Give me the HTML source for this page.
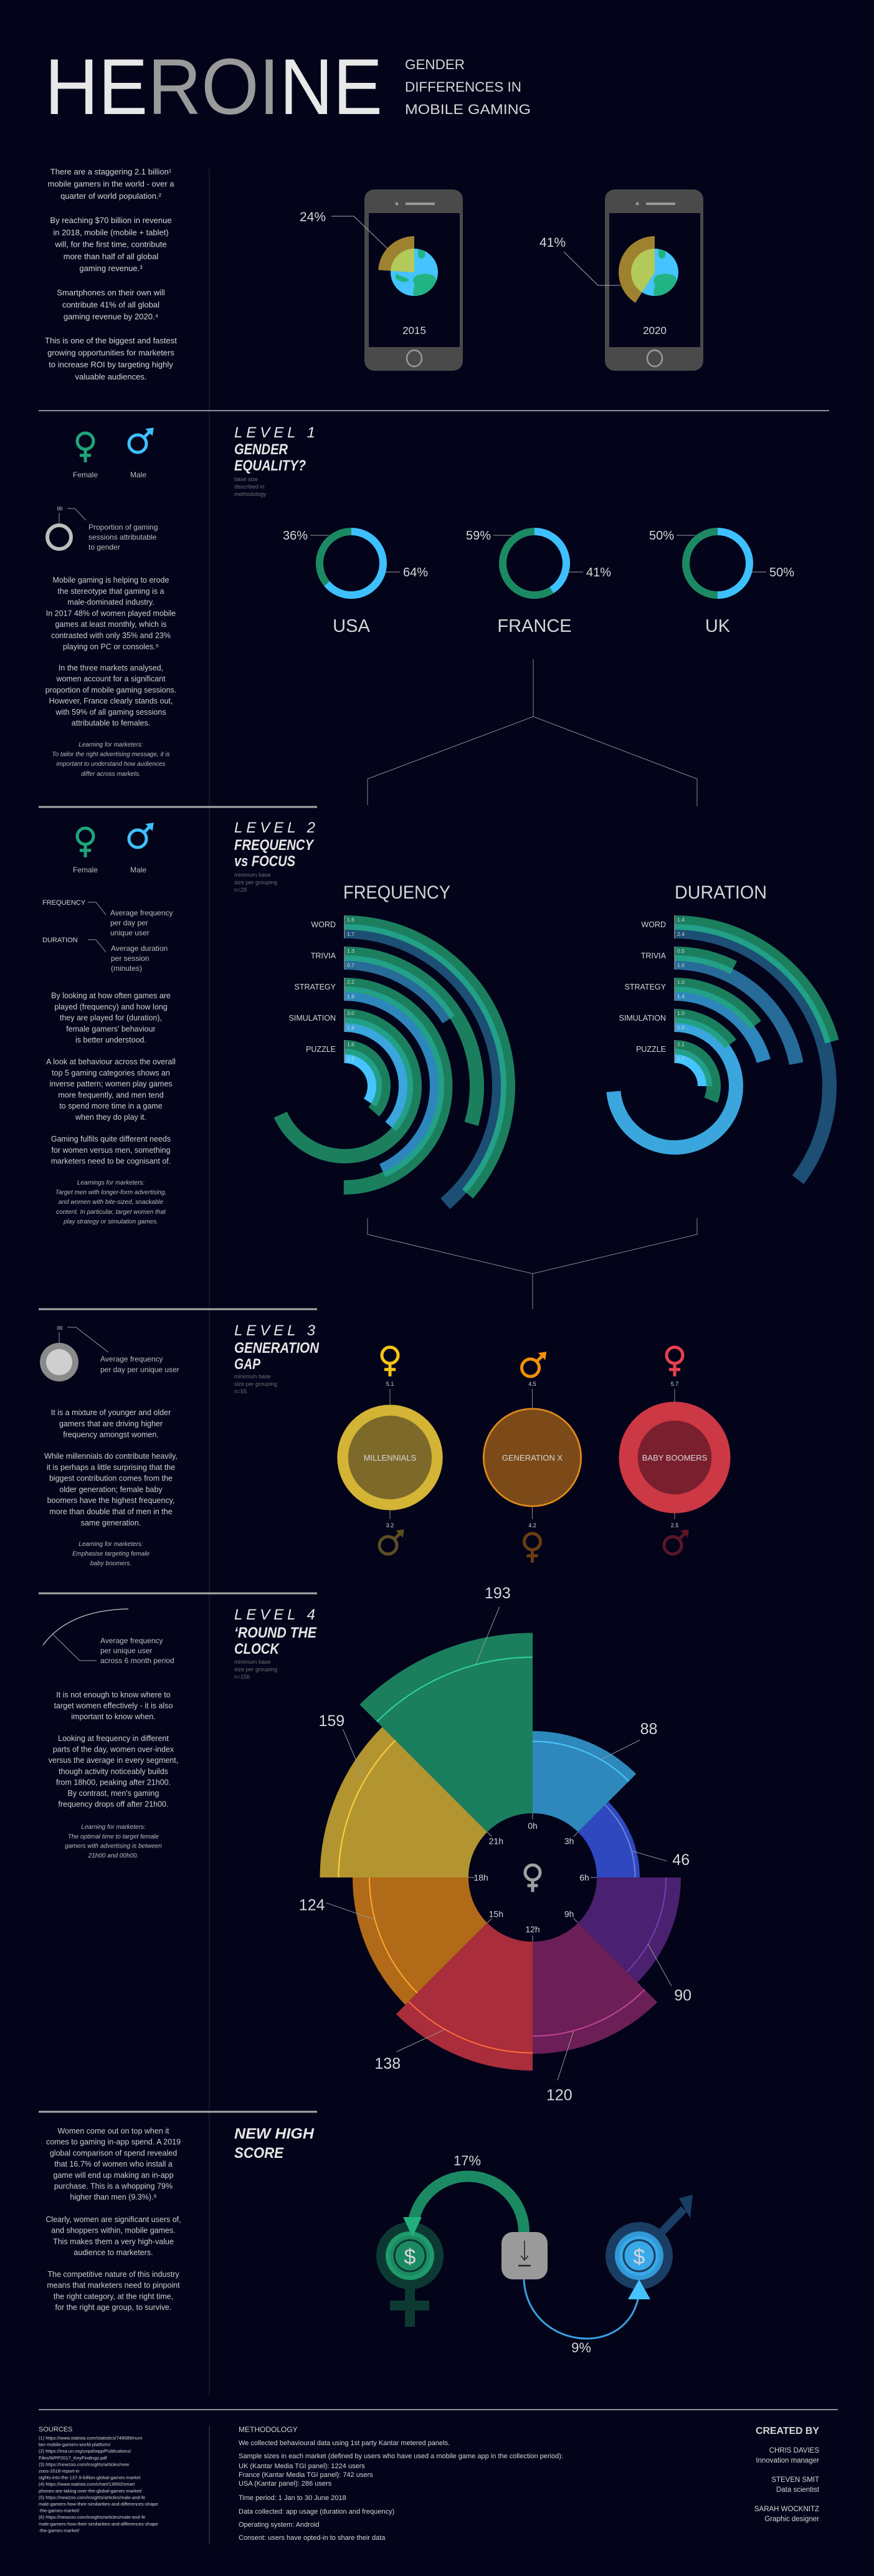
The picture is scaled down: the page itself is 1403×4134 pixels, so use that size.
<!DOCTYPE html>
<html><head><meta charset="utf-8"><title>Heroine - Gender differences in mobile gaming</title>
<style>
html,body{margin:0;padding:0;background:#03031a;}
svg{display:block;}
.t{font-family:"Liberation Sans",sans-serif;fill:#d6d6d6;}
.body{font-size:12.5px;fill:#cfcfcf;}
.intro{font-size:13px;fill:#d6d6d6;}
.learn{font-size:10px;font-style:italic;fill:#bdbdbd;}
.lvl{font-size:24px;font-style:italic;fill:#e6e6e6;}
.hd{font-size:24px;font-style:italic;font-weight:bold;fill:#e6e6e6;}
.note{font-size:9px;fill:#6f6f6f;}
.lab{font-size:12px;fill:#bdbdbd;}
.pct{font-size:20px;fill:#c8c8c8;}
</style></head>
<body>
<svg id="page" xmlns="http://www.w3.org/2000/svg" width="1403" height="4134" viewBox="0 0 1403 4134">
<rect x="0" y="0" width="1403" height="4134" fill="#03031a"/>

<!-- HEADER -->
<g>
<text class="t" x="72" y="183" font-size="127" textLength="542" lengthAdjust="spacingAndGlyphs"><tspan fill="#e8e8e8">HE</tspan><tspan fill="#9a9a9a">ROI</tspan><tspan fill="#e8e8e8">NE</tspan></text>
<text class="t" font-size="22" fill="#dcdcdc">
<tspan x="650" y="111" textLength="96" lengthAdjust="spacingAndGlyphs">GENDER</tspan>
<tspan x="650" y="147" textLength="187" lengthAdjust="spacingAndGlyphs">DIFFERENCES IN</tspan>
<tspan x="650" y="183" textLength="202" lengthAdjust="spacingAndGlyphs">MOBILE GAMING</tspan></text>
</g>

<line x1="336" y1="270" x2="336" y2="3843" stroke="#2a2a3a" stroke-width="1"/>

<text class="t intro" text-anchor="middle"><tspan x="178" y="280">There are a staggering 2.1 billion¹</tspan><tspan x="178" dy="19.5">mobile gamers in the world - over a</tspan><tspan x="178" dy="19.5">quarter of world population.²</tspan></text>
<text class="t intro" text-anchor="middle"><tspan x="178" y="358">By reaching $70 billion in revenue</tspan><tspan x="178" dy="19.3">in 2018, mobile (mobile + tablet)</tspan><tspan x="178" dy="19.3">will, for the first time, contribute</tspan><tspan x="178" dy="19.3">more than half of all global</tspan><tspan x="178" dy="19.3">gaming revenue.³</tspan></text>
<text class="t intro" text-anchor="middle"><tspan x="178" y="474">Smartphones on their own will</tspan><tspan x="178" dy="19.3">contribute 41% of all global</tspan><tspan x="178" dy="19.3">gaming revenue by 2020.⁴</tspan></text>
<text class="t intro" text-anchor="middle"><tspan x="178" y="551">This is one of the biggest and fastest</tspan><tspan x="178" dy="19.3">growing opportunities for marketers</tspan><tspan x="178" dy="19.3">to increase ROI by targeting highly</tspan><tspan x="178" dy="19.3">valuable audiences.</tspan></text>

<g id="phones"></g>
<g stroke="#aaa" stroke-width="1" fill="none">
<polyline points="532,347 568,347 622,399"/>
<polyline points="905,404 960,458 996,458"/>
</g>
<text class="t" x="481" y="355" font-size="21" fill="#ddd">24%</text>
<text class="t" x="866" y="396" font-size="21" fill="#ddd">41%</text>

<line x1="62" y1="659" x2="1331" y2="659" stroke="#bfbfbf" stroke-width="1.5"/>

<!-- LEVEL 1 -->
<g id="sym1"></g>
<text class="t lab" x="137" y="766" text-anchor="middle">Female</text>
<text class="t lab" x="222" y="766" text-anchor="middle">Male</text>
<text class="t lvl" x="376" y="702" textLength="130" lengthAdjust="spacing">LEVEL 1</text>
<text class="t hd"><tspan x="376" y="729" textLength="86" lengthAdjust="spacingAndGlyphs">GENDER</tspan><tspan x="376" y="755" textLength="115" lengthAdjust="spacingAndGlyphs">EQUALITY?</tspan></text>
<text class="t note"><tspan x="376" y="772">base size</tspan><tspan x="376" y="784">described in</tspan><tspan x="376" y="796">methodology</tspan></text>

<g>
<circle cx="95" cy="862" r="19" fill="none" stroke="#bdbdbd" stroke-width="6"/>
<text class="t" x="96" y="819" font-size="8" fill="#999" text-anchor="middle">00</text>
<polyline points="95,823 95,840" stroke="#999" fill="none"/>
<polyline points="108,816 120,816 138,835" stroke="#999" fill="none"/>
<text class="t lab"><tspan x="142" y="850">Proportion of gaming</tspan><tspan x="142" y="866">sessions attributable</tspan><tspan x="142" y="882">to gender</tspan></text>
</g>

<text class="t body" text-anchor="middle"><tspan x="178" y="935">Mobile gaming is helping to erode</tspan><tspan x="178" dy="17.8">the stereotype that gaming is a</tspan><tspan x="178" dy="17.8">male-dominated industry.</tspan><tspan x="178" dy="17.8">In 2017 48% of women played mobile</tspan><tspan x="178" dy="17.8">games at least monthly, which is</tspan><tspan x="178" dy="17.8">contrasted with only 35% and 23%</tspan><tspan x="178" dy="17.8">playing on PC or consoles.⁵</tspan></text>
<text class="t body" text-anchor="middle"><tspan x="178" y="1076">In the three markets analysed,</tspan><tspan x="178" dy="17.7">women account for a significant</tspan><tspan x="178" dy="17.7">proportion of mobile gaming sessions.</tspan><tspan x="178" dy="17.7">However, France clearly stands out,</tspan><tspan x="178" dy="17.7">with 59% of all gaming sessions</tspan><tspan x="178" dy="17.7">attributable to females.</tspan></text>
<text class="t learn" text-anchor="middle"><tspan x="178" y="1198">Learning for marketers:</tspan><tspan x="178" dy="15.6">To tailor the right advertising message, it is</tspan><tspan x="178" dy="15.6">important to understand how audiences</tspan><tspan x="178" dy="15.6">differ across markets.</tspan></text>

<g id="donuts"></g>

<g stroke="#8a8a8a" stroke-width="1" fill="none">
<polyline points="590,1292 590,1250 856,1150 1119,1250 1119,1294"/>
<line x1="856" y1="1058" x2="856" y2="1150"/>
</g>
<line x1="62" y1="1295" x2="509" y2="1295" stroke="#a8a8a8" stroke-width="3"/>

<!-- LEVEL 2 -->
<g id="sym2"></g>
<text class="t lab" x="137" y="1400" text-anchor="middle">Female</text>
<text class="t lab" x="222" y="1400" text-anchor="middle">Male</text>
<text class="t lvl" x="376" y="1336" textLength="130" lengthAdjust="spacing">LEVEL 2</text>
<text class="t hd"><tspan x="376" y="1364" textLength="127" lengthAdjust="spacingAndGlyphs">FREQUENCY</tspan><tspan x="376" y="1390" textLength="98" lengthAdjust="spacingAndGlyphs">vs FOCUS</tspan></text>
<text class="t note"><tspan x="376" y="1407">minimum base</tspan><tspan x="376" y="1419">size per grouping</tspan><tspan x="376" y="1431">n=28</tspan></text>

<g>
<text class="t" x="68" y="1452" font-size="11" fill="#ddd">FREQUENCY</text>
<polyline points="141,1448 154,1448 170,1468" stroke="#999" fill="none"/>
<text class="t lab"><tspan x="177" y="1469">Average frequency</tspan><tspan x="177" y="1485">per day per</tspan><tspan x="177" y="1501">unique user</tspan></text>
<text class="t" x="68" y="1512" font-size="11" fill="#ddd">DURATION</text>
<polyline points="141,1508 154,1508 170,1528" stroke="#999" fill="none"/>
<text class="t lab"><tspan x="178" y="1526">Average duration</tspan><tspan x="178" y="1542">per session</tspan><tspan x="178" y="1558">(minutes)</tspan></text>
</g>

<text class="t body" text-anchor="middle"><tspan x="178" y="1602">By looking at how often games are</tspan><tspan x="178" dy="17.8">played (frequency) and how long</tspan><tspan x="178" dy="17.8">they are played for (duration),</tspan><tspan x="178" dy="17.8">female gamers' behaviour</tspan><tspan x="178" dy="17.8">is better understood.</tspan></text>
<text class="t body" text-anchor="middle"><tspan x="178" y="1708">A look at behaviour across the overall</tspan><tspan x="178" dy="17.8">top 5 gaming categories shows an</tspan><tspan x="178" dy="17.8">inverse pattern; women play games</tspan><tspan x="178" dy="17.8">more frequently, and men tend</tspan><tspan x="178" dy="17.8">to spend more time in a game</tspan><tspan x="178" dy="17.8">when they do play it.</tspan></text>
<text class="t body" text-anchor="middle"><tspan x="178" y="1832">Gaming fulfils quite different needs</tspan><tspan x="178" dy="17.8">for women versus men, something</tspan><tspan x="178" dy="17.8">marketers need to be cognisant of.</tspan></text>
<text class="t learn" text-anchor="middle"><tspan x="178" y="1901">Learnings for marketers:</tspan><tspan x="178" dy="15.6">Target men with longer-form advertising,</tspan><tspan x="178" dy="15.6">and women with bite-sized, snackable</tspan><tspan x="178" dy="15.6">content. In particular, target women that</tspan><tspan x="178" dy="15.6">play strategy or simulation games.</tspan></text>

<text class="t" x="551" y="1442" font-size="30" fill="#e2e2e2" textLength="172" lengthAdjust="spacingAndGlyphs">FREQUENCY</text>
<text class="t" x="1083" y="1442" font-size="30" fill="#e2e2e2" textLength="148" lengthAdjust="spacingAndGlyphs">DURATION</text>
<g id="freqChart"></g>
<g id="durChart"></g>

<g stroke="#8a8a8a" stroke-width="1" fill="none">
<polyline points="590,1955 590,1981 855,2044 1119,1981 1119,1955"/>
<line x1="855" y1="2044" x2="855" y2="2101"/>
</g>
<line x1="62" y1="2101" x2="509" y2="2101" stroke="#a8a8a8" stroke-width="3"/>

<!-- LEVEL 3 -->
<text class="t lvl" x="376" y="2143" textLength="130" lengthAdjust="spacing">LEVEL 3</text>
<text class="t hd"><tspan x="376" y="2171" textLength="136" lengthAdjust="spacingAndGlyphs">GENERATION</tspan><tspan x="376" y="2197" textLength="42" lengthAdjust="spacingAndGlyphs">GAP</tspan></text>
<text class="t note"><tspan x="376" y="2212">minimum base</tspan><tspan x="376" y="2224">size per grouping</tspan><tspan x="376" y="2236">n=55</tspan></text>
<g>
<circle cx="95" cy="2186" r="31" fill="#8a8a8a"/>
<circle cx="95" cy="2186" r="21" fill="#cfcfcf"/>
<text class="t" x="96" y="2134" font-size="8" fill="#999" text-anchor="middle">00</text>
<line x1="95" y1="2138" x2="95" y2="2155" stroke="#999"/>
<polyline points="108,2130 122,2130 174,2170" stroke="#999" fill="none"/>
<text class="t lab"><tspan x="161" y="2185">Average frequency</tspan><tspan x="161" y="2202">per day per unique user</tspan></text>
</g>
<text class="t body" text-anchor="middle"><tspan x="178" y="2271">It is a mixture of younger and older</tspan><tspan x="178" dy="17.8">gamers that are driving higher</tspan><tspan x="178" dy="17.8">frequency amongst women.</tspan></text>
<text class="t body" text-anchor="middle"><tspan x="178" y="2341">While millennials do contribute heavily,</tspan><tspan x="178" dy="17.8">it is perhaps a little surprising that the</tspan><tspan x="178" dy="17.8">biggest contribution comes from the</tspan><tspan x="178" dy="17.8">older generation; female baby</tspan><tspan x="178" dy="17.8">boomers have the highest frequency,</tspan><tspan x="178" dy="17.8">more than double that of men in the</tspan><tspan x="178" dy="17.8">same generation.</tspan></text>
<text class="t learn" text-anchor="middle"><tspan x="178" y="2481">Learning for marketers:</tspan><tspan x="178" dy="15.6">Emphasise targeting female</tspan><tspan x="178" dy="15.6">baby boomers.</tspan></text>
<g id="genChart"></g>

<line x1="62" y1="2557" x2="509" y2="2557" stroke="#a8a8a8" stroke-width="3"/>

<!-- LEVEL 4 -->
<text class="t lvl" x="376" y="2599" textLength="130" lengthAdjust="spacing">LEVEL 4</text>
<text class="t hd"><tspan x="376" y="2628" textLength="132" lengthAdjust="spacingAndGlyphs">‘ROUND THE</tspan><tspan x="376" y="2654" textLength="72" lengthAdjust="spacingAndGlyphs">CLOCK</tspan></text>
<text class="t note"><tspan x="376" y="2670">minimum base</tspan><tspan x="376" y="2682">size per grouping</tspan><tspan x="376" y="2694">n=156</tspan></text>
<g>
<path d="M69,2640 Q110,2584 206,2582" stroke="#aaa" stroke-width="1.5" fill="none"/>
<polyline points="84,2622 128,2665 155,2665" stroke="#999" fill="none"/>
<text class="t lab"><tspan x="161" y="2637">Average frequency</tspan><tspan x="161" y="2653">per unique user</tspan><tspan x="161" y="2669">across 6 month period</tspan></text>
</g>
<text class="t body" text-anchor="middle"><tspan x="182" y="2724">It is not enough to know where to</tspan><tspan x="182" dy="17.6">target women effectively - it is also</tspan><tspan x="182" dy="17.6">important to know when.</tspan></text>
<text class="t body" text-anchor="middle"><tspan x="182" y="2794">Looking at frequency in different</tspan><tspan x="182" dy="17.6">parts of the day, women over-index</tspan><tspan x="182" dy="17.6">versus the average in every segment,</tspan><tspan x="182" dy="17.6">though activity noticeably builds</tspan><tspan x="182" dy="17.6">from 18h00, peaking after 21h00.</tspan><tspan x="182" dy="17.6">By contrast, men's gaming</tspan><tspan x="182" dy="17.6">frequency drops off after 21h00.</tspan></text>
<text class="t learn" text-anchor="middle"><tspan x="182" y="2935">Learning for marketers:</tspan><tspan x="182" dy="15.3">The optimal time to target female</tspan><tspan x="182" dy="15.3">gamers with advertising is between</tspan><tspan x="182" dy="15.3">21h00 and 00h00.</tspan></text>
<g id="roseChart"></g>

<line x1="62" y1="3389" x2="509" y2="3389" stroke="#a8a8a8" stroke-width="3"/>

<!-- LEVEL 5 -->
<text class="t hd"><tspan x="376" y="3432" textLength="128" lengthAdjust="spacingAndGlyphs">NEW HIGH</tspan><tspan x="376" y="3463" textLength="79" lengthAdjust="spacingAndGlyphs">SCORE</tspan></text>
<text class="t body" text-anchor="middle"><tspan x="182" y="3424">Women come out on top when it</tspan><tspan x="182" dy="17.7">comes to gaming in-app spend. A 2019</tspan><tspan x="182" dy="17.7">global comparison of spend revealed</tspan><tspan x="182" dy="17.7">that 16.7% of women who install a</tspan><tspan x="182" dy="17.7">game will end up making an in-app</tspan><tspan x="182" dy="17.7">purchase. This is a whopping 79%</tspan><tspan x="182" dy="17.7">higher than men (9.3%).⁶</tspan></text>
<text class="t body" text-anchor="middle"><tspan x="182" y="3566">Clearly, women are significant users of,</tspan><tspan x="182" dy="17.7">and shoppers within, mobile games.</tspan><tspan x="182" dy="17.7">This makes them a very high-value</tspan><tspan x="182" dy="17.7">audience to marketers.</tspan></text>
<text class="t body" text-anchor="middle"><tspan x="182" y="3654">The competitive nature of this industry</tspan><tspan x="182" dy="17.7">means that marketers need to pinpoint</tspan><tspan x="182" dy="17.7">the right category, at the right time,</tspan><tspan x="182" dy="17.7">for the right age group, to survive.</tspan></text>

<g>
<path d="M841,3582 A89.5,89.5 0 0 0 662,3582" stroke="#1b8a62" stroke-width="18" fill="none"/>
<rect x="650" y="3668" width="16" height="66" fill="#0c3a32"/>
<rect x="626" y="3692" width="63" height="16" fill="#0c3a32"/>
<circle cx="658" cy="3620" r="54" fill="#0c3a32"/>
<circle cx="658" cy="3620" r="39" fill="#1e9a6c"/>
<circle cx="658" cy="3620" r="32" fill="#1b8a62"/>
<circle cx="658" cy="3620" r="25" fill="none" stroke="#0c3a32" stroke-width="3"/>
<text class="t" x="658" y="3633" font-size="34" fill="#0c3a32" text-anchor="middle">$</text>
<polygon points="647,3558 677,3558 662,3590" fill="#23b07e"/>
<text class="t" x="750" y="3475" font-size="22" fill="#bbb" text-anchor="middle">17%</text>
<rect x="805" y="3582" width="74" height="76" rx="18" fill="#9a9a9a"/>
<line x1="842" y1="3596" x2="842" y2="3626" stroke="#222" stroke-width="1.5"/>
<polyline points="836,3620 842,3627 848,3620" stroke="#222" stroke-width="1.5" fill="none"/>
<line x1="832" y1="3636" x2="852" y2="3636" stroke="#222" stroke-width="2.5"/>
<path d="M841,3658 C846,3770 1010,3790 1026,3680" stroke="#3aa0e0" stroke-width="3" fill="none"/>
<line x1="1050" y1="3595" x2="1098" y2="3545" stroke="#1a3d63" stroke-width="13"/>
<polygon points="1090,3528 1112,3522 1108,3560" fill="#1a3d63"/>
<circle cx="1026" cy="3620" r="54" fill="#1a3d63"/>
<circle cx="1026" cy="3620" r="39" fill="#3298d6"/>
<circle cx="1026" cy="3620" r="32" fill="#3aa8e8"/>
<circle cx="1026" cy="3620" r="25" fill="none" stroke="#1a3d63" stroke-width="3"/>
<text class="t" x="1026" y="3633" font-size="34" fill="#1a3d63" text-anchor="middle">$</text>
<polygon points="1008,3690 1044,3690 1026,3658" fill="#45c3ff"/>
<text class="t" x="933" y="3775" font-size="22" fill="#bbb" text-anchor="middle">9%</text>
</g>

<!-- FOOTER -->
<line x1="62" y1="3867" x2="1345" y2="3867" stroke="#bfbfbf" stroke-width="1.5"/>
<line x1="336" y1="3893" x2="336" y2="4083" stroke="#444" stroke-width="1"/>
<text class="t" x="62" y="3902" font-size="11" fill="#ccc">SOURCES</text>
<text class="t" font-size="7.5" fill="#9a9a9a"><tspan x="62" y="3915">(1) https://www.statista.com/statistics/748089/num</tspan><tspan x="62" dy="10.6">ber-mobile-gamers-world-platform/</tspan><tspan x="62" dy="10.6">(2) https://esa.un.org/unpd/wpp/Publications/</tspan><tspan x="62" dy="10.6">Files/WPP2017_KeyFindings.pdf</tspan><tspan x="62" dy="10.6">(3) https://newzoo.com/insights/articles/new</tspan><tspan x="62" dy="10.6">zoos-2018-report-in</tspan><tspan x="62" dy="10.6">sights-into-the-137-9-billion-global-games-market</tspan><tspan x="62" dy="10.6">(4) https://www.statista.com/chart/13650/smart</tspan><tspan x="62" dy="10.6">phones-are-taking-over-the-global-games-market/</tspan><tspan x="62" dy="10.6">(5) https://newzoo.com/insights/articles/male-and-fe</tspan><tspan x="62" dy="10.6">male-gamers-how-their-similarities-and-differences-shape</tspan><tspan x="62" dy="10.6">-the-games-market/</tspan><tspan x="62" dy="10.6">(6) https://newzoo.com/insights/articles/male-and-fe</tspan><tspan x="62" dy="10.6">male-gamers-how-their-similarities-and-differences-shape</tspan><tspan x="62" dy="10.6">-the-games-market/</tspan></text>
<text class="t" x="383" y="3903" font-size="12" fill="#ccc">METHODOLOGY</text>
<text class="t" font-size="11" fill="#bdbdbd"><tspan x="383" y="3924">We collected behavioural data using 1st party Kantar metered panels.</tspan><tspan x="383" y="3945">Sample sizes in each market (defined by users who have used a mobile game app in the collection period):</tspan><tspan x="383" y="3961">UK (Kantar Media TGI panel): 1224 users</tspan><tspan x="383" y="3975">France (Kantar Media TGI panel): 742 users</tspan><tspan x="383" y="3989">USA (Kantar panel): 286 users</tspan><tspan x="383" y="4012">Time period: 1 Jan to 30 June 2018</tspan><tspan x="383" y="4034">Data collected: app usage (duration and frequency)</tspan><tspan x="383" y="4055">Operating system: Android</tspan><tspan x="383" y="4076">Consent: users have opted-in to share their data</tspan></text>
<text class="t" x="1315" y="3906" font-size="16" font-weight="bold" fill="#e6e6e6" text-anchor="end" textLength="102" lengthAdjust="spacing">CREATED BY</text>
<text class="t" font-size="11.5" fill="#c8c8c8" text-anchor="end"><tspan x="1315" y="3936">CHRIS DAVIES</tspan><tspan x="1315" y="3952">Innovation manager</tspan><tspan x="1315" y="3983">STEVEN SMIT</tspan><tspan x="1315" y="3999">Data scientist</tspan><tspan x="1315" y="4030">SARAH WOCKNITZ</tspan><tspan x="1315" y="4046">Graphic designer</tspan></text>
<defs id="defs"></defs>
</svg>

<script>
// ---------- DATA ----------
const mobileYears = ['2015', '2020'];
const mobileShare = [24, 41];

const countries = ['USA', 'FRANCE', 'UK'];
const femaleShare = [36, 59, 50];
const maleShare = [64, 41, 50];

const categories = ['WORD', 'TRIVIA', 'STRATEGY', 'SIMULATION', 'PUZZLE'];
const freqFemale = [1.6, 1.3, 2.2, 3.0, 1.6];
const freqMale = [1.7, 0.7, 1.9, 1.6, 1.5];
const durFemale = [1.4, 0.5, 1.0, 1.0, 2.1];
const durMale = [2.4, 1.5, 1.4, 5.0, 1.7];

const generations = ['MILLENNIALS', 'GENERATION X', 'BABY BOOMERS'];
const genTopValue = [5.1, 4.5, 5.7];
const genBottomValue = [3.2, 4.2, 2.5];
const genTopGender = ['female', 'male', 'female'];
const genBottomGender = ['male', 'female', 'male'];

const hours = ['0h', '3h', '6h', '9h', '12h', '15h', '18h', '21h'];
const femaleByHour = [88, 46, 90, 120, 138, 124, 159, 193];
const averageByHour = [77, 41, 74, 101, 119, 106, 139, 167];

// ---------- HELPERS ----------
const NS = 'http://www.w3.org/2000/svg';
function mk(tag, attrs, parent) {
  const e = document.createElementNS(NS, tag);
  for (const k in attrs) e.setAttribute(k, attrs[k]);
  parent.appendChild(e);
  return e;
}
function pt(cx, cy, r, a) { const t = a * Math.PI / 180; return [cx + r * Math.sin(t), cy - r * Math.cos(t)]; }
function arcD(cx, cy, r, a0, a1) {
  if (a1 - a0 >= 359.99) a1 = a0 + 359.99;
  const p0 = pt(cx, cy, r, a0), p1 = pt(cx, cy, r, a1);
  const large = (a1 - a0) > 180 ? 1 : 0;
  return 'M' + p0[0].toFixed(2) + ',' + p0[1].toFixed(2) + ' A' + r + ',' + r + ' 0 ' + large + ' 1 ' + p1[0].toFixed(2) + ',' + p1[1].toFixed(2);
}
function sectorD(cx, cy, r0, r1, a0, a1) {
  const large = (a1 - a0) > 180 ? 1 : 0;
  const p0 = pt(cx, cy, r1, a0), p1 = pt(cx, cy, r1, a1);
  if (r0 <= 0) return 'M' + cx + ',' + cy + ' L' + p0[0] + ',' + p0[1] + ' A' + r1 + ',' + r1 + ' 0 ' + large + ' 1 ' + p1[0] + ',' + p1[1] + ' Z';
  const q1 = pt(cx, cy, r0, a1), q0 = pt(cx, cy, r0, a0);
  return 'M' + p0[0] + ',' + p0[1] + ' A' + r1 + ',' + r1 + ' 0 ' + large + ' 1 ' + p1[0] + ',' + p1[1] + ' L' + q1[0] + ',' + q1[1] + ' A' + r0 + ',' + r0 + ' 0 ' + large + ' 0 ' + q0[0] + ',' + q0[1] + ' Z';
}
function textEl(parent, x, y, str, size, fill, anchor) {
  const t = mk('text', { x: x, y: y, 'font-size': size, fill: fill, 'text-anchor': anchor || 'start', 'class': 't' }, parent);
  t.textContent = str;
  return t;
}
function femaleSymbol(parent, cx, cy, r, color, w) {
  const g = mk('g', {}, parent);
  mk('circle', { cx: cx, cy: cy, r: r, fill: 'none', stroke: color, 'stroke-width': w }, g);
  mk('line', { x1: cx, y1: cy + r, x2: cx, y2: cy + r * 2.6, stroke: color, 'stroke-width': w }, g);
  mk('line', { x1: cx - r * 0.7, y1: cy + r * 1.75, x2: cx + r * 0.7, y2: cy + r * 1.75, stroke: color, 'stroke-width': w }, g);
  return g;
}
function maleSymbol(parent, cx, cy, r, color, w) {
  const g = mk('g', {}, parent);
  mk('circle', { cx: cx, cy: cy, r: r, fill: 'none', stroke: color, 'stroke-width': w }, g);
  const p = pt(cx, cy, r, 45), q = pt(cx, cy, r * 2.3, 45);
  mk('line', { x1: p[0], y1: p[1], x2: q[0], y2: q[1], stroke: color, 'stroke-width': w }, g);
  mk('polygon', { points: (q[0] + 3) + ',' + (q[1] - 3) + ' ' + (q[0] - r * 0.75) + ',' + (q[1] - 1) + ' ' + (q[0] + 1) + ',' + (q[1] + r * 0.75), fill: color }, g);
  return g;
}

// ---------- GENDER LEGENDS ----------
[['sym1', 708], ['sym2', 1342]].forEach(function (s) {
  const g = document.getElementById(s[0]);
  const f = femaleSymbol(g, 137, s[1], 13, '#1fa57a', 5);
  
  
  const m = maleSymbol(g, 221, s[1] + 4, 14, '#3ec0ff', 5);
  
  
});

// ---------- PHONES ----------
(function () {
  const g = document.getElementById('phones');
  const defs = document.getElementById('defs');
  mobileYears.forEach(function (yr, i) {
    const x = 585 + i * 386;
    const cx = x + 80, cy = 437;
    const body = mk('rect', { x: x, y: 304, width: 158, height: 291, rx: 16, fill: '#4a4a4a' }, g);
    
    
    const scr = mk('rect', { x: x + 7, y: 342, width: 146, height: 215, fill: '#03031a' }, g);
    
    
    mk('circle', { cx: x + 52, cy: 327, r: 2.5, fill: '#999' }, g);
    mk('rect', { x: x + 66, y: 325, width: 47, height: 4, fill: '#999' }, g);
    const hb = mk('ellipse', { cx: cx, cy: 575, rx: 12, ry: 13, fill: 'none', stroke: '#9a9a9a', 'stroke-width': 2.5 }, g);
    
    
    const cp = mk('clipPath', { id: 'globeClip' + i }, defs);
    mk('circle', { cx: cx, cy: cy, r: 38 }, cp);
    const globe = mk('circle', { cx: cx, cy: cy, r: 38, fill: '#45c3ff' }, g);
    
    
    const land = mk('g', { 'clip-path': 'url(#globeClip' + i + ')', fill: '#22b383' }, g);
    mk('path', { d: 'M' + (cx + 2) + ',' + (cy + 6) + ' c12,-6 26,-4 32,2 c4,16 -6,34 -20,38 c-14,0 -18,-10 -14,-22 c2,-8 -6,-10 2,-18 z' }, land);
    mk('path', { d: 'M' + (cx + 6) + ',' + (cy - 38) + ' c10,2 14,6 10,14 c-4,4 -10,2 -10,-6 z' }, land);
    mk('path', { d: 'M' + (cx - 30) + ',' + (cy + 2) + ' c6,4 14,4 22,10 c-4,6 -14,4 -22,-2 z' }, land);
    const a = mobileShare[i] * 3.6;
    const wedge = mk('path', { d: sectorD(cx, cy, 0, 58, -a, 0), fill: '#9e8230' }, g);
    
    
    const ov = mk('path', { d: sectorD(cx, cy, 0, 58, -a, 0), fill: '#b3c95a', 'clip-path': 'url(#globeClip' + i + ')' }, g);
    
    
    const yl = textEl(g, cx, 536, yr, 17, '#e8e8e8', 'middle');
    
    
  });
})();

// ---------- DONUTS ----------
(function () {
  const g = document.getElementById('donuts');
  countries.forEach(function (c, i) {
    const cx = 564 + i * 294, cy = 904, r = 51;
    const ma = maleShare[i] * 3.6;
    const m = mk('path', { d: arcD(cx, cy, r, 0, ma), stroke: '#3ec0ff', 'stroke-width': 12, fill: 'none' }, g);
    
    
    const f = mk('path', { d: arcD(cx, cy, r, ma, 360), stroke: '#1b8a62', 'stroke-width': 12, fill: 'none' }, g);
    
    
    mk('line', { x1: cx - 66, y1: cy - 45, x2: cx - 36, y2: cy - 45, stroke: '#999' }, g);
    const fl = textEl(g, cx - 70, cy - 38, femaleShare[i] + '%', 20, '#c8c8c8', 'end');
    
    
    const my = cy + 14;
    mk('line', { x1: cx + 55, y1: my, x2: cx + 78, y2: my, stroke: '#999' }, g);
    const ml = textEl(g, cx + 83, my + 7, maleShare[i] + '%', 20, '#c8c8c8', 'start');
    
    
    const nl = textEl(g, cx, 1014, c, 29, '#e4e4e4', 'middle');
    
    
  });
})();

// ---------- RADIAL BAR CHARTS ----------
const maleColors = ['#1d4e74', '#276b98', '#2e87bc', '#3aa6dd', '#45c4ff'];
function radial(id, cx, degPerUnit, fem, mal) {
  const g = document.getElementById(id);
  const cy = 1743;
  categories.forEach(function (cat, i) {
    const R = 274 - 50 * i;
    const fa = fem[i] * degPerUnit, ma = mal[i] * degPerUnit;
    const fb = mk('path', { d: arcD(cx, cy, R - 11.5, 0, fa), stroke: '#1b7f5e', 'stroke-width': 23, fill: 'none' }, g);
    
    
    const mb = mk('path', { d: arcD(cx, cy, R - 25.5, 0, ma), stroke: maleColors[i], 'stroke-width': 23, fill: 'none' }, g);
    
    
    const ob = mk('path', { d: arcD(cx, cy, R - 18.5, 0, Math.min(fa, ma)), stroke: '#22a088', 'stroke-width': 9, fill: 'none' }, g);
    
    
    mk('line', { x1: cx, y1: cy - R, x2: cx, y2: cy - R + 37, stroke: '#8a8a8a', 'stroke-width': 1.5 }, g);
    const fv = textEl(g, cx + 4, cy - R + 10, fem[i].toFixed(1), 8.5, '#0b2a22', 'start');
    
    
    const mv = textEl(g, cx + 4, cy - R + 33, mal[i].toFixed(1), 8.5, '#0b1a2a', 'start');
    
    
    const cl = textEl(g, cx - 14, cy - R + 19, cat, 12.5, '#b8b8b8', 'end');
    
    
  });
}
radial('freqChart', 553, 82, freqFemale, freqMale);
radial('durChart', 1083, 53, durFemale, durMale);

// ---------- GENERATIONS ----------
(function () {
  const g = document.getElementById('genChart');
  const topCol = ['#f5c518', '#f0900a', '#e8404d'];
  const outerCol = ['#d4b435', '#e08a1a', '#cc3844'];
  const innerCol = ['#7d6a2a', '#7b4a18', '#7a1f2e'];
  const botCol = ['#5e4e22', '#6b3d12', '#5a1625'];
  generations.forEach(function (gen, i) {
    const cx = 626 + i * 228.5, cy = 2339;
    const ro = 37.5 * Math.sqrt(genTopValue[i]), ri = 37.5 * Math.sqrt(genBottomValue[i]);
    mk('line', { x1: cx, y1: 2229, x2: cx, y2: cy - ro, stroke: '#888' }, g);
    mk('line', { x1: cx, y1: cy + ro, x2: cx, y2: 2438, stroke: '#888' }, g);
    const oc = mk('circle', { cx: cx, cy: cy, r: ro, fill: outerCol[i] }, g);
    
    
    const ic = mk('circle', { cx: cx, cy: cy, r: ri, fill: innerCol[i] }, g);
    
    
    const nl = textEl(g, cx, cy + 5, gen, 13, '#15151f', 'middle');
    
    
    const tv = textEl(g, cx, 2224, genTopValue[i].toFixed(1), 9, '#888', 'middle');
    
    
    const bv = textEl(g, cx, 2451, genBottomValue[i].toFixed(1), 9, '#888', 'middle');
    
    
    const ts = genTopGender[i] === 'female' ? femaleSymbol(g, cx, 2175, 13, topCol[i], 5) : maleSymbol(g, cx - 3, 2195, 14, topCol[i], 5);
    
    
    const bs = genBottomGender[i] === 'female' ? femaleSymbol(g, cx, 2474, 13, botCol[i], 5) : maleSymbol(g, cx - 3, 2480, 14, botCol[i], 5);
    
    
  });
})();

// ---------- ROUND THE CLOCK ----------
(function () {
  const g = document.getElementById('roseChart');
  const cx = 855, cy = 3013, r0 = 103, k = 1.5;
  const fills = ['#2e88bb', '#2f47bf', '#4a2070', '#6b1f56', '#a92d3b', '#b06a18', '#b29530', '#1b7f5e'];
  const lines = ['#4cc8ff', '#6a86d8', '#7a3ab0', '#c0449a', '#ff6a3a', '#ffa530', '#ffd040', '#2fd49a'];
  hours.forEach(function (h, i) {
    const a0 = i * 45, a1 = a0 + 45;
    const r = r0 + k * femaleByHour[i];
    const ra = r0 + k * averageByHour[i];
    const s = mk('path', { d: sectorD(cx, cy, r0, r, a0, a1), fill: fills[i] }, g);
    
    
    const al = mk('path', { d: arcD(cx, cy, ra, a0, a1), stroke: lines[i], 'stroke-width': 2, fill: 'none' }, g);
    
    
    const la = a0 + 38;
    const p = pt(cx, cy, ra, a0 + 30), q = pt(cx, cy, r + 45, la), lp = pt(cx, cy, r + 68, la);
    mk('line', { x1: p[0], y1: p[1], x2: q[0], y2: q[1], stroke: '#999' }, g);
    const vl = textEl(g, lp[0], lp[1] + 9, String(femaleByHour[i]), 25, '#c8c8c8', 'middle');
    
    
  });
  mk('circle', { cx: cx, cy: cy, r: r0, fill: '#03031a' }, g);
  hours.forEach(function (h, i) {
    const a = i * 45;
    const tp = pt(cx, cy, r0 - 20, a);
    const t1 = pt(cx, cy, r0, a), t2 = pt(cx, cy, r0 - 10, a);
    mk('line', { x1: t1[0], y1: t1[1], x2: t2[0], y2: t2[1], stroke: '#999' }, g);
    const hl = textEl(g, tp[0], tp[1] + 5, h, 14, '#bdbdbd', 'middle');
    
    
  });
  const fs = femaleSymbol(g, cx, cy - 8, 12, '#a0a0a0', 5);
  
  
})();
</script>
</body></html>
